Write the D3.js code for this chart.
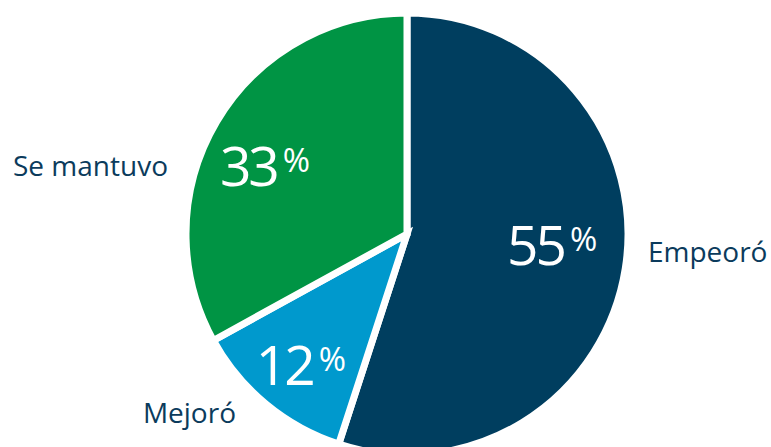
<!DOCTYPE html>
<html>
<head>
<meta charset="utf-8">
<script src="https://cdn.jsdelivr.net/npm/d3@7"></script>
<style>
  html, body { margin: 0; padding: 0; background: #fff; }
  svg { display: block; }
</style>
</head>
<body>
<div id="chart"></div>
<script>
// data
const categories = ["Empeoró", "Mejoró", "Se mantuvo"];
const values = [55, 12, 33];
const colors = ["#003e5f", "#0099cd", "#009444"];

const width = 771, height = 447;
const cx = 407, cy = 234, radius = 221;

// label placement (offset in px from arc centroid, outer label spot)
const pctPlace = {
  "Empeoró":   { r: 150, dx: -3, dy: -10 },
  "Mejoró":    { r: 165, dx: -1, dy: 6 },
  "Se mantuvo":{ r: 158, dx: -6, dy: 14 }
};
const namePlace = {
  "Empeoró":   { x: 648, y: 262, anchor: "start" },
  "Mejoró":    { x: 236, y: 423, anchor: "end" },
  "Se mantuvo":{ x: 168, y: 176, anchor: "end" }
};

const svg = d3.select("#chart").append("svg")
  .attr("width", width).attr("height", height);

const g = svg.append("g").attr("transform", `translate(${cx},${cy})`);

const pie = d3.pie().sort(null).value(d => d.value);
const arcs = pie(categories.map((c, i) => ({ name: c, value: values[i], color: colors[i] })));
const arc = d3.arc().innerRadius(0).outerRadius(radius);

g.selectAll("path.slice")
  .data(arcs)
  .join("path")
  .attr("class", "slice")
  .attr("d", arc)
  .attr("fill", d => d.data.color)
  .attr("stroke", "#fff")
  .attr("stroke-width", 7)
  .attr("stroke-linejoin", "miter");

// percentage labels
arcs.forEach(d => {
  const p = pctPlace[d.data.name];
  const [x, y] = d3.arc().innerRadius(p.r).outerRadius(p.r).centroid(d);
  const t = g.append("text")
    .attr("x", x + p.dx)
    .attr("y", y + p.dy + 18)
    .attr("text-anchor", "middle")
    .attr("fill", "#fff")
    .style("font-family", "'Open Sans', sans-serif")
    .style("font-weight", 400)
    .style("letter-spacing", "-3px");
  t.append("tspan").style("font-size", "55px").text(d.data.value);
  t.append("tspan").style("font-size", "33px").attr("dx", 6).attr("dy", -14).style("letter-spacing", "0px").text("%");
});

// category labels
arcs.forEach(d => {
  const p = namePlace[d.data.name];
  svg.append("text")
    .attr("x", p.x).attr("y", p.y)
    .attr("text-anchor", p.anchor)
    .attr("fill", "#0b3b5c")
    .style("font-family", "'Open Sans', sans-serif")
    .style("font-size", "28px")
    .text(d.data.name);
});
</script>
</body>
</html>
